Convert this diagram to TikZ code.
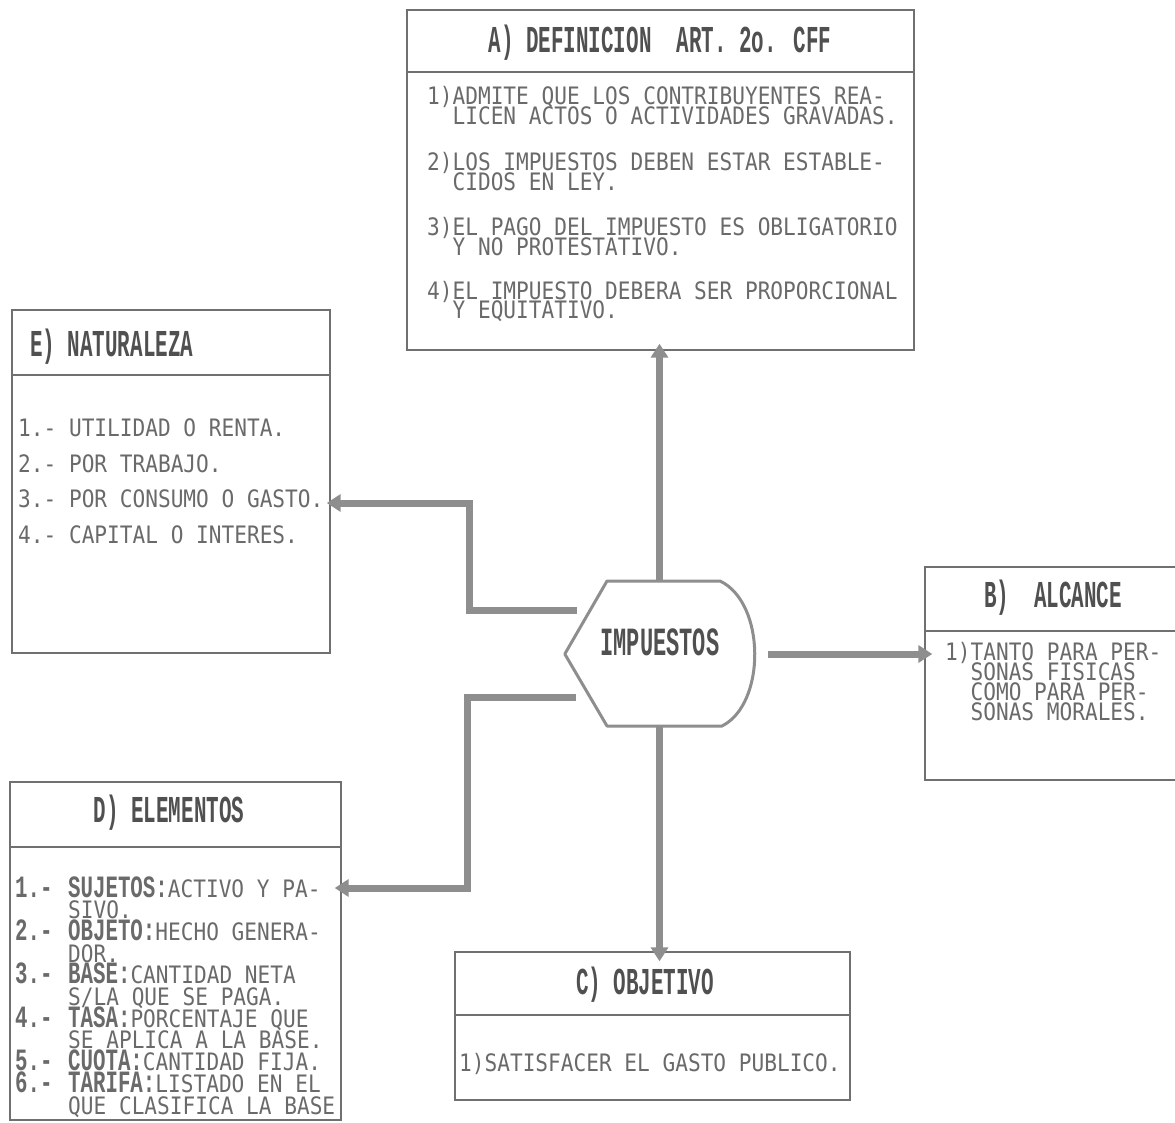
\documentclass[tikz,border=0pt]{standalone}
\usepackage{fontspec}
\usetikzlibrary{arrows.meta}
\newfontfamily\dotfont[FakeStretch=0.88]{DejaVu Sans Mono}
\newfontfamily\headfont[FakeStretch=0.55,UprightFont={* Bold}]{Liberation Mono}
\newfontfamily\keyfont[FakeStretch=0.67,UprightFont={* Bold}]{Liberation Mono}
\definecolor{dotgray}{HTML}{6A6A6A}
\definecolor{headgray}{HTML}{505050}
\definecolor{boxgray}{HTML}{707070}
\definecolor{linkgray}{HTML}{8E8E8E}
\newcommand{\key}[1]{{\keyfont\fontsize{31}{21.7}\selectfont #1}}
\newcommand{\num}[1]{\makebox[53pt][l]{\key{#1}}}
\newcommand{\tightlines}{\lineskiplimit=-100pt\relax}
\tikzset{
  box/.style={draw=boxgray,line width=1.4pt,rectangle,inner sep=0pt},
  sepline/.style={draw=boxgray,line width=1.4pt},
  title/.style={font=\headfont\fontsize{38}{40}\selectfont,text=headgray,inner sep=0pt},
  entry/.style={font=\dotfont\fontsize{24}{20}\selectfont\tightlines,text=dotgray,align=left,inner sep=0pt,anchor=base west},
  link/.style={draw=linkgray,line width=7pt,-{Triangle[length=14pt,width=17pt]}},
  hexline/.style={draw=linkgray,line width=3pt,line join=round}
}
\begin{document}
\begin{tikzpicture}[x=1pt,y=-1pt]
\fill[white] (0,0) rectangle (1175,1123);
\useasboundingbox (0,0) rectangle (1175,1123);

\node[box,minimum width=507pt,minimum height=340pt] (boxA) at (660.5,180) {};
\node[box,minimum width=318pt,minimum height=343pt] (boxE) at (171,481.5) {};
\node[box,minimum width=255pt,minimum height=213pt] (boxB) at (1052.5,673.5) {};
\node[box,minimum width=331pt,minimum height=338pt] (boxD) at (175.5,951) {};
\node[box,minimum width=395pt,minimum height=148pt] (boxC) at (652.5,1026) {};
\draw[sepline] (boxA.west |- 0,72) -- (boxA.east |- 0,72);
\draw[sepline] (boxE.west |- 0,375) -- (boxE.east |- 0,375);
\draw[sepline] (boxB.west |- 0,631) -- (boxB.east |- 0,631);
\draw[sepline] (boxD.west |- 0,847) -- (boxD.east |- 0,847);
\draw[sepline] (boxC.west |- 0,1015) -- (boxC.east |- 0,1015);

\node[title] (titleA) at (660,43) {A) DEFINICION~~ART. 2o. CFF};
\node[title,anchor=west] (titleE) at (30,347) {E) NATURALEZA};
\node[title] (titleB) at (1053,598) {B)~~ALCANCE};
\node[title] (titleD) at (169,813) {D) ELEMENTOS};
\node[title] (titleC) at (645,985) {C) OBJETIVO};

\node[entry] (a1) at (427,124.5) {1)ADMITE QUE LOS CONTRIBUYENTES REA-\\\phantom{1)}LICEN ACTOS O ACTIVIDADES GRAVADAS.};
\node[entry] (a2) at (427,191) {2)LOS IMPUESTOS DEBEN ESTAR ESTABLE-\\\phantom{2)}CIDOS EN LEY.};
\node[entry] (a3) at (427,255.5) {3)EL PAGO DEL IMPUESTO ES OBLIGATORIO\\\phantom{3)}Y NO PROTESTATIVO.};
\node[entry] (a4) at (427,319) {4)EL IMPUESTO DEBERA SER PROPORCIONAL\\\phantom{4)}Y EQUITATIVO.};

\node[entry,font=\dotfont\fontsize{24}{35.7}\selectfont] (e1) at (18,543.6) {1.- UTILIDAD O RENTA.\\2.- POR TRABAJO.\\3.- POR CONSUMO O GASTO.\\4.- CAPITAL O INTERES.};

\node[entry] (b1) at (945,720.5) {1)TANTO PARA PER-\\\phantom{1)}SONAS FISICAS\\\phantom{1)}COMO PARA PER-\\\phantom{1)}SONAS MORALES.};

\node[entry,font=\dotfont\fontsize{24}{21.7}\selectfont\tightlines] (d1) at (15,1114) {\num{1.-}\key{SUJETOS:}ACTIVO Y PA-\\\hspace*{53pt}SIVO.\\
\num{2.-}\key{OBJETO:}HECHO GENERA-\\\hspace*{53pt}DOR.\\
\num{3.-}\key{BASE:}CANTIDAD NETA\\\hspace*{53pt}S/LA QUE SE PAGA.\\
\num{4.-}\key{TASA:}PORCENTAJE QUE\\\hspace*{53pt}SE APLICA A LA BASE.\\
\num{5.-}\key{CUOTA:}CANTIDAD FIJA.\\
\num{6.-}\key{TARIFA:}LISTADO EN EL\\\hspace*{53pt}QUE CLASIFICA LA BASE};

\node[entry] (c1) at (459,1071.5) {1)SATISFACER EL GASTO PUBLICO.};

\node[minimum width=189pt,minimum height=146pt,inner sep=0pt] (tax) at (659.5,654) {};
\draw[hexline] (tax.west) -- (607,581) -- (720,581) .. controls (766,603) and (766,704) .. (722,726) -- (607,726) -- cycle;
\node[title,font=\headfont\fontsize{40}{40}\selectfont] (taxname) at (660,642) {IMPUESTOS};

\coordinate (bendE) at (469,503);
\coordinate (bendD) at (467,888);
\draw[link,shorten >=-7pt] (tax.north) -- (tax.north |- boxA.south);
\draw[link,shorten >=-10pt] (tax.south) -- (tax.south |- boxC.north);
\draw[link,shorten <=14pt,shorten >=-8pt] (tax.east) -- (tax.east -| boxB.west);
\draw[link,shorten >=-4pt] ([shift={(12pt,44pt)}]tax.west) -| (bendE) -- (bendE -| boxE.east);
\draw[link,shorten >=-7pt] ([shift={(11pt,-43pt)}]tax.west) -| (bendD) -- (bendD -| boxD.east);
\end{tikzpicture}
\end{document}
